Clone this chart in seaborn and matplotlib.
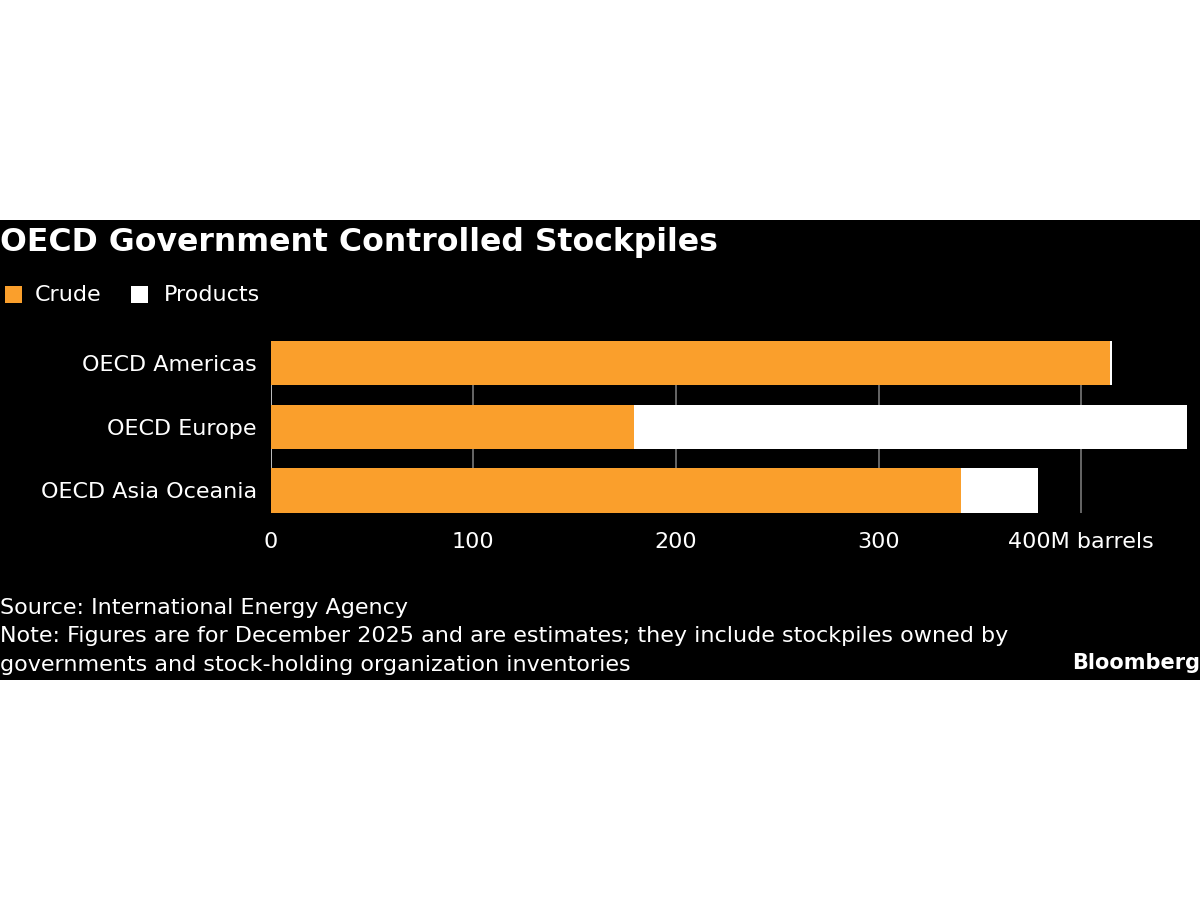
import matplotlib
matplotlib.use("Agg")
from matplotlib import pyplot as plt
from matplotlib.patches import Rectangle
import numpy as np
import pandas as pd
import seaborn as sns

regions = ["OECD Americas", "OECD Europe", "OECD Asia Oceania"]
crude = [414, 179.5, 340.5]
products = [1, 272.5, 38]
x_ticks = [0, 100, 200, 300, 400]
x_tick_labels = ["0", "100", "200", "300", "400M barrels"]

ORANGE = "#FA9F2C"
BG = "#000000"

sns.set_theme(style="dark")
plt.rcParams["font.family"] = ["DejaVu Sans"]

df = pd.DataFrame({"region": regions, "crude": crude, "products": products})
df["total"] = df["crude"] + df["products"]

fig = plt.figure(figsize=(12, 9), dpi=100)
fig.patch.set_facecolor("white")
# black band holding the whole graphic
fig.patches.append(Rectangle((0, 220 / 900), 1, 460 / 900, transform=fig.transFigure,
                             facecolor=BG, edgecolor="none", zorder=-5))

# axes spans from top of first bar to bottom of last bar (gridlines stop there)
ax = fig.add_axes([270.7 / 1200, (900 - 512.5) / 900, 919 / 1200, 171.5 / 900])
ax.set_facecolor(BG)

sns.barplot(data=df, x="total", y="region", order=regions, color="white",
            width=0.7, linewidth=0, saturation=1, ax=ax, zorder=3)
sns.barplot(data=df, x="crude", y="region", order=regions, color=ORANGE,
            width=0.7, linewidth=0, saturation=1, ax=ax, zorder=4)

ax.set_xlim(0, 453.5)
ax.set_ylim(2.35, -0.35)
ax.set_xticks(x_ticks)
ax.set_xticklabels(x_tick_labels)
ax.set_xlabel("")
ax.set_ylabel("")
ax.grid(False)
for t in x_ticks[1:]:
    ax.axvline(t, color="#6e6e6e", lw=1.3, zorder=1)
ax.axvline(0, color="#d0d0d0", lw=1.3, zorder=2)
for s in ax.spines.values():
    s.set_visible(False)
ax.tick_params(axis="both", length=0, colors="white", labelsize=16)
ax.tick_params(axis="x", pad=14)
ax.tick_params(axis="y", pad=10)

# title + legend
fig.text(0.0, 1 - 242 / 900, "OECD Government Controlled Stockpiles", color="white",
         fontsize=22.7, fontweight="bold", va="center", ha="left")
fig.patches.append(Rectangle((5 / 1200, 1 - 303 / 900), 17 / 1200, 17 / 900,
                             transform=fig.transFigure, facecolor=ORANGE, edgecolor="none"))
fig.text(35 / 1200, 1 - 295 / 900, "Crude", color="white", fontsize=16, va="center")
fig.patches.append(Rectangle((131 / 1200, 1 - 303 / 900), 17 / 1200, 17 / 900,
                             transform=fig.transFigure, facecolor="white", edgecolor="none"))
fig.text(164 / 1200, 1 - 295 / 900, "Products", color="white", fontsize=16, va="center")

# footer
foot = ["Source: International Energy Agency",
        "Note: Figures are for December 2025 and are estimates; they include stockpiles owned by",
        "governments and stock-holding organization inventories"]
for i, line in enumerate(foot):
    fig.text(0.0, 1 - (608 + 28.5 * i) / 900, line, color="white", fontsize=16, va="center")
fig.text(1.0, 1 - 663 / 900, "Bloomberg", color="white", fontsize=15, fontweight="bold",
         va="center", ha="right")

fig.savefig("out.png", dpi=100, facecolor=fig.get_facecolor())
